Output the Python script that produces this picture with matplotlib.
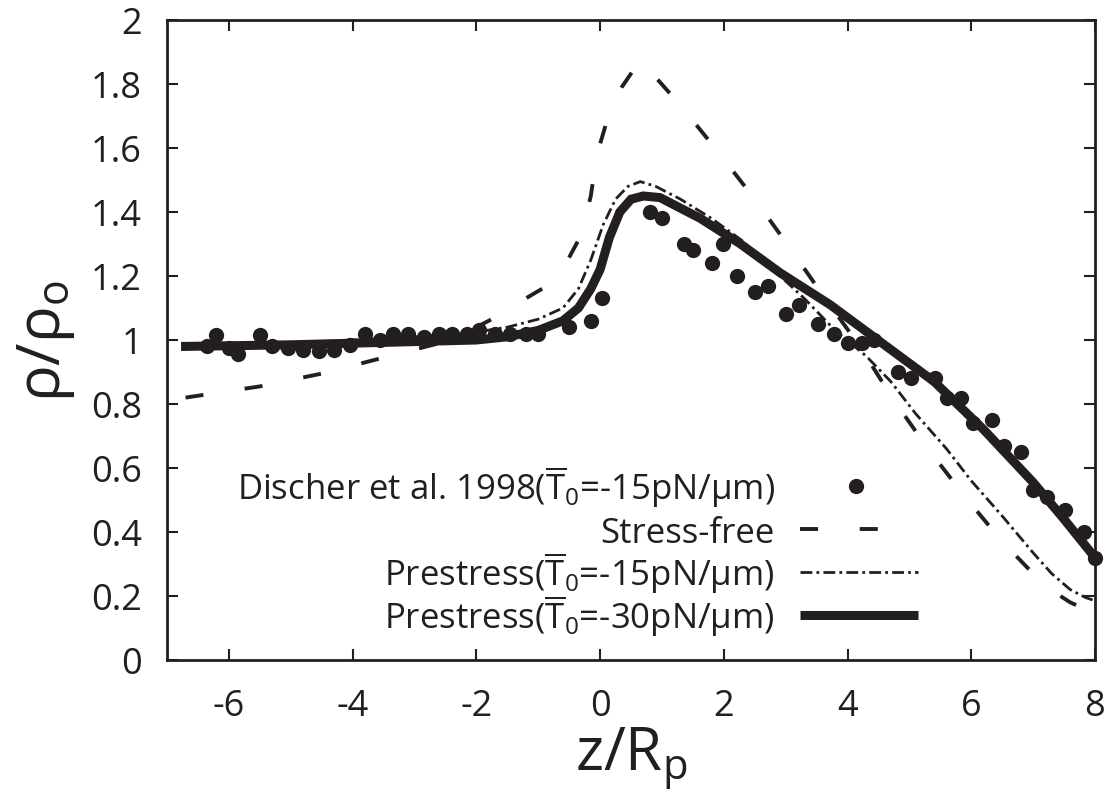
import matplotlib
matplotlib.use('Agg')
import matplotlib.pyplot as plt

plt.rcParams['font.family'] = ['Open Sans', 'DejaVu Sans']
plt.rcParams['mathtext.fontset'] = 'custom'
plt.rcParams['mathtext.rm'] = 'Open Sans'
plt.rcParams['mathtext.it'] = 'Open Sans'
plt.rcParams['axes.unicode_minus'] = False
plt.rcParams['lines.scale_dashes'] = False

INK = '#231f20'

# Discher et al. 1998 experiment
exp_x = [-6.35, -6.2, -6.0, -5.85, -5.5, -5.3, -5.05, -4.8, -4.55, -4.3, -4.05, -3.8,
         -3.55, -3.35, -3.1, -2.85, -2.6, -2.4, -2.15, -1.95, -1.7, -1.45, -1.2, -1.0,
         -0.5, -0.15, 0.03,
         0.8, 1.0, 1.36, 1.51, 1.81, 1.99, 2.21, 2.51, 2.72, 3.01, 3.21, 3.53, 3.78,
         4.0, 4.24, 4.42, 4.81, 5.02, 5.42, 5.61, 5.83, 6.02, 6.33, 6.53, 6.81, 6.99,
         7.23, 7.52, 7.82, 8.0]
exp_y = [0.98, 1.015, 0.975, 0.955, 1.015, 0.98, 0.975, 0.97, 0.965, 0.97, 0.985, 1.02,
         1.0, 1.02, 1.02, 1.01, 1.02, 1.02, 1.02, 1.03, 1.02, 1.02, 1.02, 1.02,
         1.04, 1.06, 1.13,
         1.40, 1.38, 1.30, 1.28, 1.24, 1.30, 1.20, 1.15, 1.17, 1.08, 1.11, 1.05, 1.02,
         0.99, 0.99, 1.0, 0.90, 0.88, 0.88, 0.82, 0.82, 0.74, 0.75, 0.67, 0.65, 0.53,
         0.51, 0.47, 0.40, 0.32]

# stress-free model
sf_x = [-6.7, -5.5, -4.5, -3.5, -2.6, -2.0, -1.6, -1.2, -0.85, -0.55, -0.3, -0.15,
        -0.05, 0.15, 0.35, 0.65, 1.27, 1.9, 2.5, 3.06, 3.6, 4.2, 4.72, 5.3, 5.9, 6.5,
        7.2, 7.6, 8.0]
sf_y = [0.82, 0.855, 0.895, 0.945, 0.99, 1.04, 1.08, 1.13, 1.17, 1.24, 1.33, 1.45,
        1.58, 1.71, 1.79, 1.875, 1.74, 1.59, 1.44, 1.29, 1.14, 0.98, 0.82, 0.66, 0.51,
        0.37, 0.23, 0.18, 0.145]

# prestress T0 = -15 pN/um
p15_x = [-6.7, -5.0, -4.0, -3.0, -2.0, -1.5, -1.0, -0.6, -0.35, -0.15, 0.05, 0.25,
         0.45, 0.65, 0.9, 1.3, 1.8, 2.3, 2.8, 3.3, 3.8, 4.3, 4.7, 5.1, 5.6, 6.0, 6.5,
         7.0, 7.3, 7.6, 7.85, 8.0]
p15_y = [0.98, 0.99, 1.0, 1.01, 1.025, 1.04, 1.065, 1.10, 1.16, 1.25, 1.36, 1.44,
         1.48, 1.495, 1.48, 1.44, 1.38, 1.31, 1.22, 1.13, 1.03, 0.95, 0.87, 0.77, 0.66,
         0.56, 0.45, 0.335, 0.27, 0.22, 0.195, 0.185]

# prestress T0 = -30 pN/um
p30_x = [-6.7, -5.0, -4.0, -3.0, -2.0, -1.5, -1.0, -0.6, -0.35, -0.15, 0.0, 0.15,
         0.32, 0.5, 0.7, 0.97, 1.62, 2.27, 2.91, 3.72, 4.42, 5.4, 6.2, 7.0, 7.5, 8.0]
p30_y = [0.98, 0.985, 0.99, 0.995, 1.0, 1.01, 1.03, 1.06, 1.10, 1.16, 1.22, 1.32,
         1.40, 1.44, 1.45, 1.445, 1.38, 1.30, 1.21, 1.11, 1.01, 0.87, 0.72, 0.555,
         0.44, 0.32]

labels = ['Discher et al. 1998($\\overline{\\mathrm{T}}_0$=-15pN/\u03bcm)',
          'Stress-free',
          'Prestress($\\overline{\\mathrm{T}}_0$=-15pN/\u03bcm)',
          'Prestress($\\overline{\\mathrm{T}}_0$=-30pN/\u03bcm)']

fig = plt.figure(figsize=(11.17, 8.03), dpi=100)
ax = fig.add_axes([167/1117, 1 - 661/803, 928/1117, 640/803])

styles = [dict(ls='none', marker='o', ms=11, mec='none'),
          dict(lw=2.8, dashes=(13, 30)),
          dict(lw=2.0, dashes=(8.5, 3, 2, 3)),
          dict(lw=6.5, solid_joinstyle='miter')]

ax.plot(sf_x, sf_y, color=INK, **styles[1])
ax.plot(p15_x, p15_y, color=INK, **styles[2])
ax.plot(p30_x, p30_y, color=INK, **styles[3])
ax.plot(exp_x, exp_y, color=INK, clip_on=False, **styles[0])

ax.set_xlim(-7, 8)
ax.set_ylim(0, 2)
ax.set_xticks([-6, -4, -2, 0, 2, 4, 6, 8])
ax.set_yticks([0, 0.2, 0.4, 0.6, 0.8, 1, 1.2, 1.4, 1.6, 1.8, 2])
ax.set_yticklabels(['0', '0.2', '0.4', '0.6', '0.8', '1', '1.2', '1.4', '1.6', '1.8', '2'])
ax.tick_params(direction='in', length=8, width=1.5, top=True, right=True,
               labelsize=26, colors=INK)
ax.tick_params(axis='x', pad=20)
ax.tick_params(axis='y', pad=18)
for s in ax.spines.values():
    s.set_linewidth(2)
    s.set_color(INK)

ax.set_xlabel('z/R$_\\mathrm{p}$', fontsize=43, color=INK, labelpad=0)
ax.set_ylabel('\u03c1/\u03c1$_\\mathrm{o}$', fontsize=44, color=INK, labelpad=10)

# key, gnuplot style: right-aligned text, sample to the right
row_y = [0.272, 0.205, 0.1375, 0.070]
for lab, st, yy in zip(labels, styles, row_y):
    ax.text(0.655, yy - 0.02, lab, transform=ax.transAxes, ha='right', va='baseline',
            fontsize=25, color=INK)
    if st.get('marker'):
        ax.plot([0.742], [yy], transform=ax.transAxes, color=INK, **st)
    else:
        ax.plot([0.682, 0.809], [yy, yy], transform=ax.transAxes, color=INK,
                solid_capstyle='butt', dash_capstyle='butt', **st)

fig.savefig('out.png', dpi=100)
